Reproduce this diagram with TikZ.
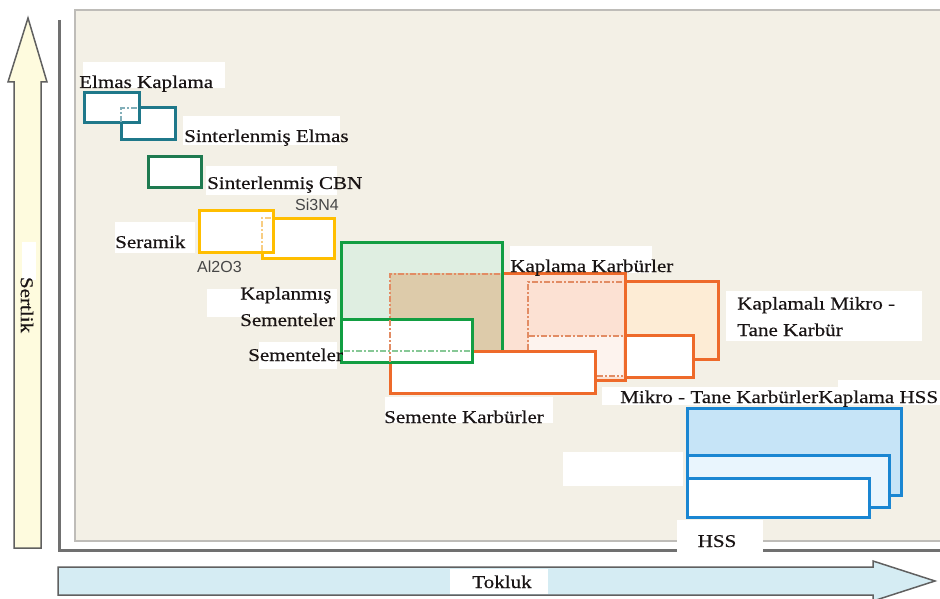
\documentclass[tikz,border=0pt]{standalone}
\usepackage{fontspec}
\setmainfont{Liberation Serif}
\newfontfamily\lblfont{Liberation Serif}[FakeStretch=1.17,FakeBold=0.4]
\newfontfamily\chemfont{Liberation Sans}

% palette
\definecolor{plotbg}{RGB}{243,240,230}
\definecolor{plotedge}{RGB}{190,188,184}
\definecolor{axisgray}{RGB}{112,112,112}
\definecolor{arrowedge}{RGB}{96,96,96}
\definecolor{hardfill}{RGB}{254,251,222}
\definecolor{toughfill}{RGB}{213,236,243}
\definecolor{diateal}{RGB}{31,120,138}
\definecolor{diadash}{RGB}{130,175,185}
\definecolor{cbngreen}{RGB}{30,122,80}
\definecolor{ceramyellow}{RGB}{255,190,0}
\definecolor{ceramdash}{RGB}{248,205,130}
\definecolor{cemgreen}{RGB}{18,158,66}
\definecolor{cemfill}{RGB}{223,238,225}
\definecolor{cemdash}{RGB}{135,200,150}
\definecolor{brownmix}{RGB}{221,203,170}
\definecolor{carbor}{RGB}{238,106,42}
\definecolor{carbdash}{RGB}{226,140,100}
\definecolor{coatfill}{RGB}{252,225,211}
\definecolor{microfill}{RGB}{253,236,213}
\definecolor{microlight}{RGB}{253,243,238}
\definecolor{hssblue}{RGB}{26,134,210}
\definecolor{hsscoat}{RGB}{198,228,247}
\definecolor{hssmid}{RGB}{233,245,253}
\definecolor{chemgray}{RGB}{70,70,70}
\definecolor{ink}{RGB}{25,20,20}

\tikzset{
  lbl/.style={font=\lblfont\fontsize{18}{26.5}\selectfont, text=ink,
    inner sep=0pt, anchor=base west, align=left},
  chem/.style={font=\chemfont\fontsize{16}{19}\selectfont, text=chemgray,
    inner sep=0pt, anchor=base west},
  gradebox/.style={line width=3pt},
  hiddenedge/.style={line width=1.2pt, dash pattern=on 6pt off 2pt on 2pt off 2pt},
  bigarrow/.style={draw=arrowedge, line width=1.5pt, line join=miter},
  labelbg/.style={fill=white}
}

\begin{document}
\begin{tikzpicture}[x=1pt,y=-1pt]
\useasboundingbox (0,0) rectangle (940,599);

% axes as broad arrows
\draw[bigarrow, fill=hardfill]
  (14,548) -- (14,82) -- (8,82) -- (28,18) -- (47,82) -- (41,82) -- (41,548) -- cycle;
\draw[bigarrow, fill=toughfill]
  (58,567) -- (873,567) -- (873,561) -- (935,581) -- (873,601) -- (873,595) -- (58,595) -- cycle;

% axis frame and chart area
\draw[axisgray, line width=3pt] (59,20) -- (59,550) -- (945,550);
\draw[plotedge, fill=plotbg, line width=1.5pt] (75,10) rectangle (950,541);

% label backgrounds
\fill[labelbg] (83,62) rectangle (225,88);
\fill[labelbg] (183,116) rectangle (340,145);
\fill[labelbg] (206,166) rectangle (337,195);
\fill[labelbg] (115,222) rectangle (195,253);
\fill[labelbg] (207,289) rectangle (337,317);
\fill[labelbg] (259,342) rectangle (337,369);
\fill[labelbg] (510,246) rectangle (652,273);
\fill[labelbg] (726,291) rectangle (922,341);
\fill[labelbg] (602,387) rectangle (838,405);
\fill[labelbg] (838,380) rectangle (945,405);
\fill[labelbg] (385,397) rectangle (553,423);
\fill[labelbg] (563,452) rectangle (683,486);
\fill[labelbg] (677,520) rectangle (763,553);
\fill[labelbg] (450,569) rectangle (548,594);
\fill[labelbg] (22,242) rectangle (36,280);

% diamond tools
\draw[gradebox, diateal, fill=white] (121,108) rectangle (175,140);
\draw[gradebox, diateal, fill=white] (84,93) rectangle (139,123);
\draw[hiddenedge, diadash] (121,122) -- (121,108) -- (138,108);
\draw[gradebox, cbngreen, fill=white] (148,157) rectangle (201,187);

% ceramics
\draw[gradebox, ceramyellow, fill=white] (262,218) rectangle (334,258);
\draw[gradebox, ceramyellow, fill=white] (199,210) rectangle (273,252);
\draw[hiddenedge, ceramdash] (262,251) -- (262,218) -- (272,218);

% carbide family
\draw[gradebox, carbor, fill=microfill] (528,281) rectangle (718,359);
\draw[gradebox, carbor, fill=white] (528,335) rectangle (693,377);
\fill[coatfill] (390,273) rectangle (625,380);
\fill[microlight] (529,336) rectangle (623,377);
\draw[gradebox, carbor] (390,273) rectangle (625,380);

% cermets
\fill[cemfill] (341,242) rectangle (502,351);
\fill[brownmix] (390,273) rectangle (502,351);
\draw[gradebox, cemgreen] (341,242) rectangle (502,351);
\draw[gradebox, carbor, fill=white] (390,351) rectangle (595,393);
\draw[gradebox, cemgreen, fill=white] (341,319) rectangle (472,362);

% edges hidden behind overlapping ranges
\draw[hiddenedge, cemdash] (344,351) -- (470,351);
\draw[hiddenedge, carbdash] (390,362) -- (390,274) -- (500,274);
\draw[hiddenedge, carbdash] (528,350) -- (528,282) -- (623,282);
\draw[hiddenedge, carbdash] (529,336) -- (623,336);
\draw[hiddenedge, carbdash] (597,376) -- (623,376);

% high speed steels
\draw[gradebox, hssblue, fill=hsscoat] (687,408) rectangle (901,495);
\draw[gradebox, hssblue, fill=hssmid] (687,455) rectangle (889,507);
\draw[gradebox, hssblue, fill=white] (687,478) rectangle (869,517);

% labels (multi-line nodes sit on the baseline of their last line)
\node[lbl] (elmaskap) at (79,88) {Elmas Kaplama};
\node[lbl] (sintelmas) at (184,142) {Sinterlenmiş Elmas};
\node[lbl] (sintcbn) at (207,189) {Sinterlenmiş CBN};
\node[chem] (sinit) at (295,210) {Si3N4};
\node[lbl] (seramik) at (115,248) {Seramik};
\node[chem] (alox) at (197,272) {Al2O3};
\node[lbl] (kapsem) at (240,326) {Kaplanmış\\Sementeler};
\node[lbl] (sement) at (248,361) {Sementeler};
\node[lbl] (kapkarb) at (510,272) {Kaplama Karbürler};
\node[lbl] (kapmikro) at (737,336) {Kaplamalı Mikro -\\Tane Karbür};
\node[lbl] (mikro) at (620,403) {Mikro - Tane Karbürler};
\node[lbl] (kaphss) at (818,403) {Kaplama HSS};
\node[lbl] (semkarb) at (384,423) {Semente Karbürler};
\node[lbl, anchor=base] (hss) at (717,547) {HSS};
\node[lbl, anchor=base] (tokluk) at (502,588) {Tokluk};
\node[lbl, anchor=center, rotate=-90] (sertlik) at (27,305) {Sertlik};
\end{tikzpicture}
\end{document}
